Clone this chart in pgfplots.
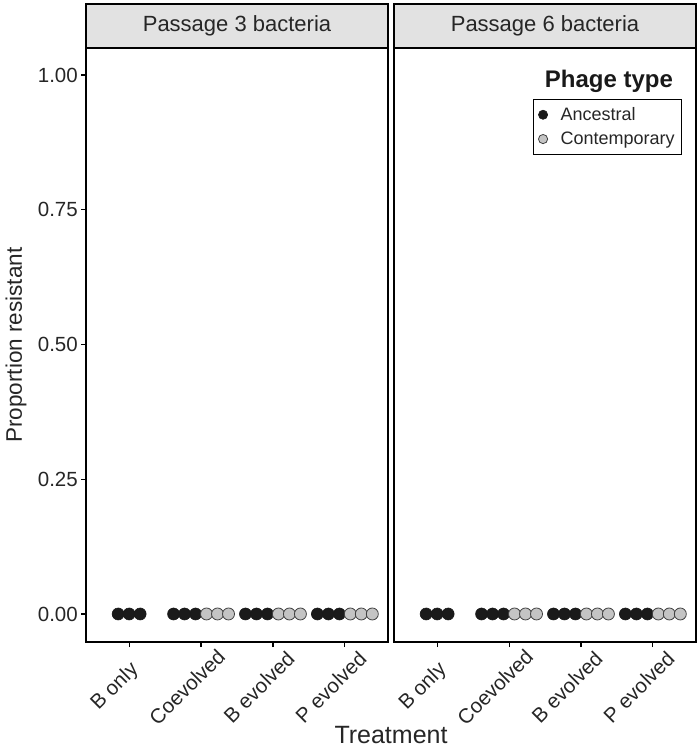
\documentclass[border=0pt]{standalone}
\usepackage{pgfplots}
\pgfplotsset{compat=1.18}
\usepackage{pgfplotstable}
\usepackage{fontspec}
\setmainfont{Liberation Sans}
\definecolor{anc}{HTML}{1A1A1A}
\definecolor{con}{HTML}{C4C4C4}
\definecolor{stripfill}{HTML}{E2E2E2}

% Ancestral phage: proportion resistant (dodged positions)
\pgfplotstableread{
x y
0.847 0
1.000 0
1.153 0
1.618 0
1.771 0
1.924 0
2.618 0
2.771 0
2.924 0
3.618 0
3.771 0
3.924 0
}\ancA
% Contemporary phage
\pgfplotstableread{
x y
2.076 0
2.229 0
2.382 0
3.076 0
3.229 0
3.382 0
4.076 0
4.229 0
4.382 0
}\conA

\pgfplotsset{
  facet/.style={
    scale only axis, width=302pt, height=594pt,
    xmin=0.4, xmax=4.6, ymin=-0.052, ymax=1.05,
    xtick={1,2,3,4},
    xticklabels={B only, Coevolved, B evolved, P evolved},
    ytick={0,0.25,0.5,0.75,1},
    yticklabels={0.00,0.25,0.50,0.75,1.00},
    tick align=outside, major tick length=5pt,
    tick style={black, line width=1.1pt},
    axis line style={black, line width=1.2pt},
    xtick pos=bottom, ytick pos=left,
    xticklabel style={xshift=-14pt, yshift=-40pt, rotate=45, anchor=center, inner sep=0pt,
      font=\fontsize{20.5}{20}\selectfont, text=black!85},
    yticklabel style={font=\fontsize{20.5}{20}\selectfont, text=black!85, inner sep=3pt},
    clip=false,
  },
  ancmark/.style={only marks, mark=*, mark size=6pt,
    mark options={fill=anc, draw=black!90, line width=0.6pt}},
  conmark/.style={only marks, mark=*, mark size=6pt,
    mark options={fill=con, draw=black!75, line width=0.8pt}},
}

\begin{document}
\begin{tikzpicture}[x=1pt,y=1pt]
\path[use as bounding box] (0,0) rectangle (698,-749);

% Left facet
\begin{axis}[facet, at={(86pt,-642pt)}, anchor=south west]
  \addplot[ancmark] table[x=x,y=y] {\ancA};
  \addplot[conmark] table[x=x,y=y] {\conA};
  \draw[fill=stripfill, line width=1.2pt] (rel axis cs:0,1) rectangle ([yshift=44pt]rel axis cs:1,1);
  \node[font=\fontsize{22}{22}\selectfont, text=black!85] at ([yshift=22pt]rel axis cs:0.5,1) {Passage 3 bacteria};
\end{axis}

% Right facet
\begin{axis}[facet, at={(394pt,-642pt)}, anchor=south west,
    yticklabels={}, ytick style={draw=none},
    legend style={at={(0.954,0.914)}, anchor=north east, draw=black, line width=0.8pt,
      font=\fontsize{18}{18}\selectfont, row sep=6pt, inner xsep=5pt, inner ysep=6pt,
      /tikz/every odd column/.append style={column sep=11pt},
      cells={anchor=west, text=black!85, inner sep=1pt}},
    legend image code/.code={\draw[#1, mark size=4.6pt] plot coordinates {(0pt,0pt)};}]
  \addplot[ancmark] table[x=x,y=y] {\ancA};
  \addlegendentry{Ancestral}
  \addplot[conmark] table[x=x,y=y] {\conA};
  \addlegendentry{Contemporary}
  \draw[fill=stripfill, line width=1.2pt] (rel axis cs:0,1) rectangle ([yshift=44pt]rel axis cs:1,1);
  \node[font=\fontsize{22}{22}\selectfont, text=black!85] at ([yshift=22pt]rel axis cs:0.5,1) {Passage 6 bacteria};
  \node[font=\bfseries\fontsize{24}{24}\selectfont, anchor=base west, text=black!90] at (rel axis cs:0.488,0.933) {Phage type};
\end{axis}

% Axis titles
\node[font=\fontsize{25}{25}\selectfont, text=black!85] at (391,-735) {Treatment};
\node[font=\fontsize{22.5}{22.5}\selectfont, rotate=90, text=black!85] at (16,-345) {Proportion resistant};
\end{tikzpicture}
\end{document}
